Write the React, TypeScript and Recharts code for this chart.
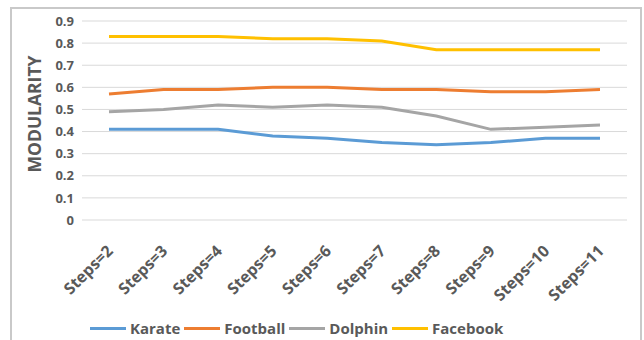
import React from 'react';
import { LineChart, Line, XAxis, YAxis, CartesianGrid, Legend } from 'recharts';

const categories = ['Steps=2', 'Steps=3', 'Steps=4', 'Steps=5', 'Steps=6', 'Steps=7', 'Steps=8', 'Steps=9', 'Steps=10', 'Steps=11'];
const karate = [0.41, 0.41, 0.41, 0.38, 0.37, 0.35, 0.34, 0.35, 0.37, 0.37];
const football = [0.57, 0.59, 0.59, 0.60, 0.60, 0.59, 0.59, 0.58, 0.58, 0.59];
const dolphin = [0.49, 0.50, 0.52, 0.51, 0.52, 0.51, 0.47, 0.41, 0.42, 0.43];
const facebook = [0.83, 0.83, 0.83, 0.82, 0.82, 0.81, 0.77, 0.77, 0.77, 0.77];
const yTicks = [0, 0.1, 0.2, 0.3, 0.4, 0.5, 0.6, 0.7, 0.8, 0.9];

const series = [
  { key: 'Karate', color: '#5B9BD5' },
  { key: 'Football', color: '#ED7D31' },
  { key: 'Dolphin', color: '#A5A5A5' },
  { key: 'Facebook', color: '#FFC000' },
];

const data = categories.map((c, i) => ({
  name: c,
  Karate: karate[i],
  Football: football[i],
  Dolphin: dolphin[i],
  Facebook: facebook[i],
}));

const FONT = '"Open Sans", sans-serif';
const TEXT = '#595959';

const XTick = (props: any) => {
  const { x, y, payload } = props;
  return (
    <g transform={`translate(${x + 5},${y + 24})`}>
      <text textAnchor="end" transform="rotate(-45)" fill={TEXT} fontSize={16} fontWeight="bold" fontFamily={FONT}>
        {payload.value}
      </text>
    </g>
  );
};

const LegendContent = () => (
  <div style={{ display: 'flex', alignItems: 'center', fontFamily: FONT, fontWeight: 'bold', fontSize: 15, color: TEXT, height: 20, whiteSpace: 'nowrap' }}>
    {series.map((s) => (
      <div key={s.key} style={{ display: 'flex', alignItems: 'center' }}>
        <span style={{ display: 'inline-block', width: 36, height: 3, background: s.color, marginRight: 4 }} />
        <span style={{ marginRight: 4 }}>{s.key}</span>
      </div>
    ))}
  </div>
);

export default function App() {
  return (
    <div style={{ position: 'absolute', left: 0, top: 0, width: 644, height: 340, overflow: 'hidden', background: '#fff' }}>
      <div style={{ position: 'absolute', left: 10, top: 7, width: 628, height: 360, border: '2px solid #c9c9c9' }} />
      <div style={{ position: 'absolute', left: 0, top: 0 }}>
        <LineChart width={644} height={340} data={data} margin={{ top: 21, right: 17, left: 22, bottom: 0 }}>
          <CartesianGrid horizontal={true} vertical={false} stroke="#d9d9d9" />
          <XAxis dataKey="name" axisLine={false} tickLine={false} height={120} interval={0} padding={{ left: 27, right: 27 }} tick={<XTick />} />
          <YAxis
            domain={[0, 0.9]}
            ticks={yTicks}
            axisLine={false}
            tickLine={false}
            width={60}
            interval={0}
            tick={{ fill: TEXT, fontSize: 13, fontWeight: 'bold', fontFamily: FONT }}
            tickFormatter={(v: number) => String(Math.round(v * 10) / 10)}
            label={{ value: 'MODULARITY', angle: -90, position: 'insideLeft', dx: 8, dy: 52, fill: TEXT, fontSize: 17.5, fontWeight: 'bold', fontFamily: FONT }}
          />
          <Legend
            layout="horizontal"
            verticalAlign="middle"
            align="center"
            wrapperStyle={{ left: 90, top: 318, width: 'auto' }}
            content={<LegendContent />}
          />
          {series.map((s) => (
            <Line key={s.key} type="linear" dataKey={s.key} stroke={s.color} strokeWidth={3} dot={false} isAnimationActive={false} />
          ))}
        </LineChart>
      </div>
    </div>
  );
}
